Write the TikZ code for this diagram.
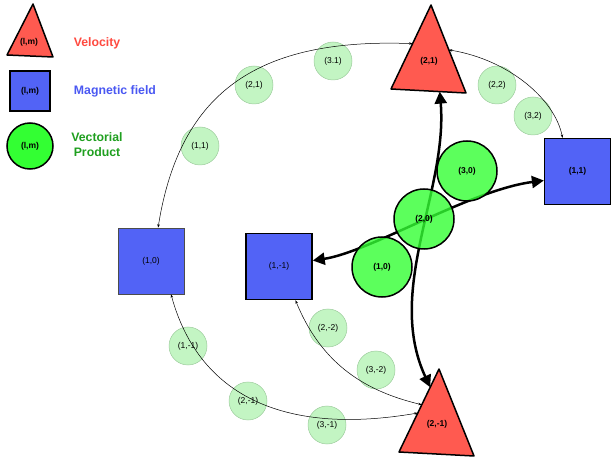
\documentclass[tikz,border=0pt]{standalone}
\usepackage{fontspec}
\setmainfont{Liberation Sans}
\usetikzlibrary{arrows.meta,calc}
\definecolor{velred}{HTML}{FF5A50}
\definecolor{magblue}{HTML}{5263F6}
\definecolor{vecgreen}{HTML}{33FF33}
\definecolor{palegreen}{HTML}{C3F5C3}
\definecolor{paleedge}{HTML}{9CCB9C}
\definecolor{redtext}{HTML}{FF4A40}
\definecolor{bluetext}{HTML}{4A58F2}
\definecolor{greentext}{HTML}{1F9F1F}
\tikzset{
 lab/.style={font=\fontsize{8.5}{10}\selectfont},
 blab/.style={font=\fontsize{8.5}{10}\selectfont\bfseries},
 velo/.style={draw=black,fill=velred,line width=1.5pt,line join=round},
 field/.style={rectangle,draw=black,fill=magblue,line width=1.5pt,minimum size=66pt,inner sep=0pt},
 vecprod/.style={circle,draw=black,fill=vecgreen,fill opacity=0.8,text opacity=1,line width=1.5pt,minimum size=60pt,inner sep=0pt},
 mode/.style={circle,draw=paleedge,fill=palegreen,line width=0.5pt,minimum size=38pt,inner sep=0pt,lab},
 legendtext/.style={font=\fontsize{12.3}{15}\selectfont\bfseries,align=center},
 bigarrow/.style={line width=2.5pt,{Triangle[length=12pt,width=12pt]}-{Triangle[length=12pt,width=12pt]}},
 smallarrow/.style={line width=0.5pt,{Stealth[length=3.5pt,width=2.5pt]}-{Stealth[length=3.5pt,width=2.5pt]}}
}
\begin{document}
\begin{tikzpicture}[x=1pt,y=-1pt]
\useasboundingbox (0,0) rectangle (611,457);
% legend
\draw[velo] (33,4)--(7,55)--(53,57)--cycle;
\node[blab] (lv) at (29,42) {(l,m)};
\node[legendtext,text=redtext] (tv) at (97,43) {Velocity};
\node[field,minimum size=40pt,blab] (lb) at (30,91) {(l,m)};
\node[legendtext,text=bluetext] (tb) at (115,91) {Magnetic field};
\node[vecprod,minimum size=46pt,blab,fill opacity=1] (lp) at (30,146) {(l,m)};
\node[legendtext,text=greentext] (tp) at (97,145) {Vectorial\\ Product};
% magnetic field
\node[field,blab,line width=1.2pt] (m11) at (577.5,171.5) {(1,1)};
\node[field,lab,line width=0.6pt,draw=black!70] (m10) at (151,261) {(1,0)};
\node[field,lab] (m1m1) at (279,266.5) {(1,-1)};
% velocity
\coordinate (t21a) at (431,5); \coordinate (t21l) at (391,89); \coordinate (t21r) at (466,93);
\draw[velo] (t21a)--(t21l)--(t21r)--cycle;
\node[blab] (v21) at (429,61) {(2,1)};
\coordinate (tm21a) at (439,369); \coordinate (tm21l) at (399,452); \coordinate (tm21r) at (474,456);
\draw[velo] (tm21a)--(tm21l)--(tm21r)--cycle;
\node[blab] (v2m1) at (437,424) {(2,-1)};
% intermediate modes
\node[mode] (p11) at (200,146) {(1,1)};
\node[mode] (p21) at (254,85) {(2,1)};
\node[mode] (p31) at (333,61) {(3.1)};
\node[mode] (p22) at (497,85) {(2,2)};
\node[mode] (p32) at (533,116) {(3,2)};
\node[mode] (p1m1) at (188,346) {(1,-1)};
\node[mode] (p2m1) at (248,401) {(2,-1)};
\node[mode] (p3m1) at (327,425) {(3,-1)};
\node[mode] (p2m2) at (328,328) {(2,-2)};
\node[mode] (p3m2) at (376,370) {(3,-2)};
\draw[smallarrow] (m10.78) .. controls (180,90) and (260,38) .. ($(t21a)!0.46!(t21l)$);
\draw[smallarrow] ($(t21a)!0.51!(t21r)$) .. controls (510,60) and (555,100) .. (m11.114);
\draw[smallarrow] (m10.-59) .. controls (200,400) and (290,435) .. ($(tm21a)!0.53!(tm21l)$);
\draw[smallarrow] (m1m1.-64) .. controls (320,360) and (360,390) .. ($(tm21a)!0.43!(tm21l)$);
% vectorial product
\draw[bigarrow] (m1m1.10) .. controls (370,252) and (470,190) .. (m11.195);
\draw[bigarrow] ($(t21l)!0.65!(t21r)$) .. controls (448,190) and (385,290) .. ($(tm21a)!0.22!(tm21l)$);
\node[vecprod,blab] (c10) at (382,267) {(1,0)};
\node[vecprod,blab] (c20) at (424,219) {(2,0)};
\node[vecprod,blab] (c30) at (467,171) {(3,0)};
\end{tikzpicture}
\end{document}
